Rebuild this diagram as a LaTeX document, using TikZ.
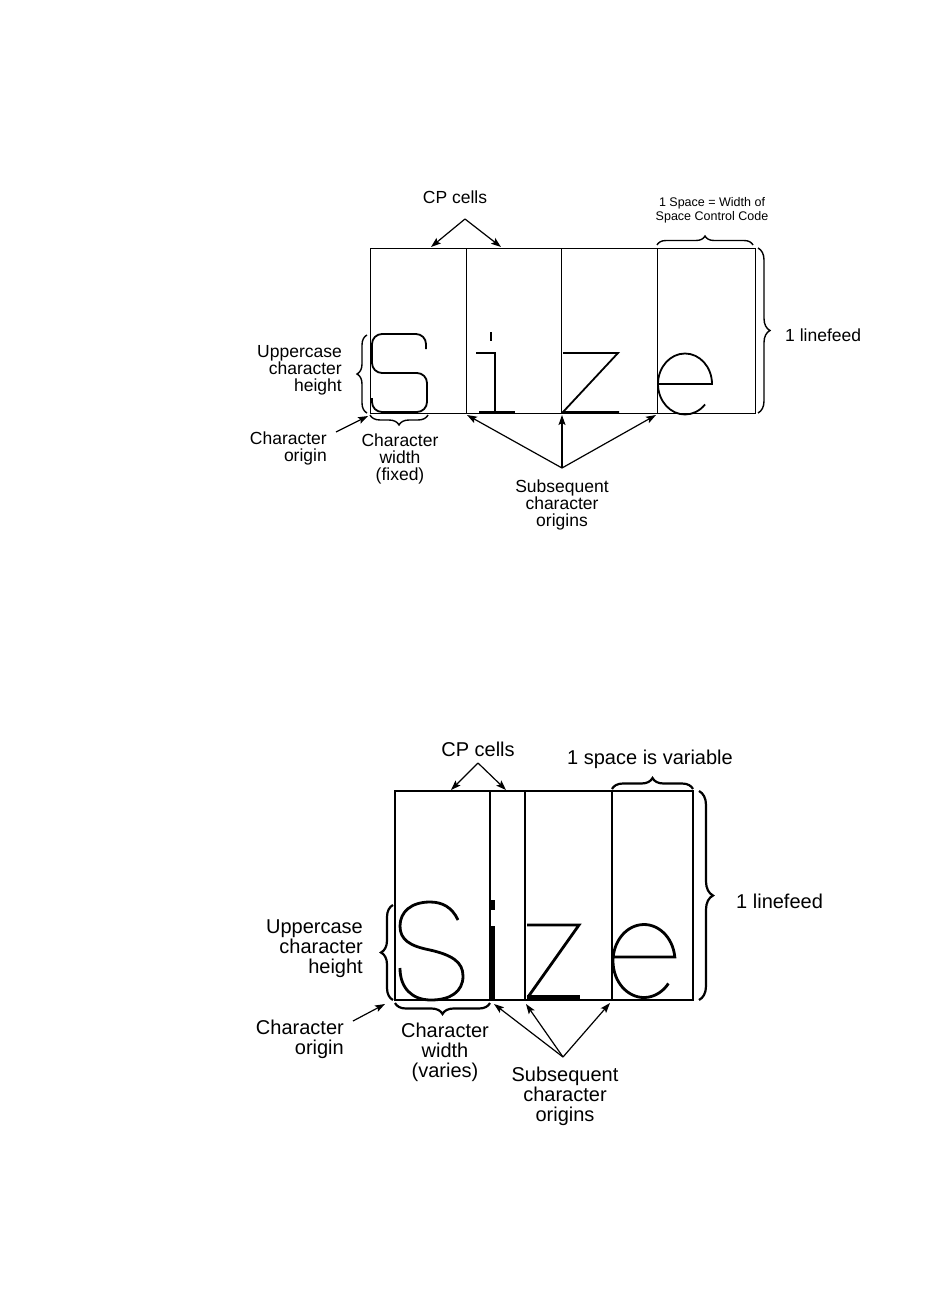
\documentclass[tikz,border=0pt]{standalone}
\usepackage{fontspec}
\setmainfont{Liberation Sans}
\usetikzlibrary{arrows.meta,decorations.pathreplacing}
\begin{document}
\begin{tikzpicture}[x=1pt,y=-1pt,
  cellT/.style={line width=1pt},
  cellB/.style={line width=1.2pt},
  glyphT/.style={line width=1.8pt,line cap=butt,line join=miter},
  glyphB/.style={line width=2.8pt,line cap=butt,line join=miter},
  arr/.style={-{Stealth[length=10pt,width=7pt,inset=2pt]},line width=1.2pt},
  braceT/.style={decorate,decoration={brace,amplitude=#1},line width=1.4pt},
  braceB/.style={decorate,decoration={brace,amplitude=#1},line width=2.2pt},
  lblT/.style={inner sep=0pt,font=\fontsize{17.5}{17}\selectfont},
  lblS/.style={inner sep=0pt,font=\fontsize{12.5}{14}\selectfont,align=center},
  lblB/.style={inner sep=0pt,font=\fontsize{20}{20}\selectfont},
]
\useasboundingbox (0,0) rectangle (950,1316);

% ================= TOP DIAGRAM =================
\draw[cellT] (370,248) rectangle (755,413);
\draw[cellT] (466,248) -- (466,413);
\draw[cellT] (561,248) -- (561,413);
\draw[cellT] (657,248) -- (657,413);

% glyphs: S i z e (fixed)
\draw[glyphT,rounded corners=10pt] (426,349) -- (426,334) -- (372,334) -- (372,373) -- (427,373) -- (427,412) -- (372,412) -- (372,398);
\draw[glyphT] (491,332) -- (491,341);
\draw[glyphT] (476,353) -- (495,353) -- (495,412);
\draw[glyphT] (479,412) -- (515,412);
\draw[glyphT] (563,353) -- (618,353) -- (563,412) -- (619,412);
\draw[glyphT] (658,384) -- (712,384) arc[start angle=0,end angle=-318,x radius=27,y radius=30.5];

% braces
\draw[braceT=9pt] (657,245) -- (753,245);
\draw[braceT=12pt] (758,248) -- (758,413);
\draw[braceT=10pt] (367,413) -- (367,335);
\draw[braceT=10pt] (428,415) -- (370,415);

% labels
\node[lblT] (cpT) at (455,197) {CP cells};
\node[lblS] (spT) at (712,210) {1 Space = Width of\\Space Control Code};
\node[lblT,anchor=west] (lfT) at (785,335) {1 linefeed};
\node[lblT,anchor=east,align=right] (ucT) at (342,370) {Uppercase\\character\\height};
\node[lblT,anchor=east,align=right] (coT) at (327,448) {Character\\origin};
\node[lblT,align=center] (cwT) at (400,459) {Character\\width\\(fixed)};
\node[lblT,align=center] (soT) at (562,505) {Subsequent\\character\\origins};

% arrows
\coordinate (cpTa) at (465,219);
\coordinate (cpT1) at (431,247);
\coordinate (cpT2) at (501,247);
\draw[arr] (cpTa) -- (cpT1);
\draw[arr] (cpTa) -- (cpT2);
\coordinate (coTs) at (336,432);
\coordinate (coTe) at (368,416);
\draw[arr] (coTs) -- (coTe);
\coordinate (soTa) at (562,468);
\coordinate (soT1) at (467,415);
\coordinate (soT2) at (562,415);
\coordinate (soT3) at (656,415);
\draw[arr] (soTa) -- (soT1);
\draw[arr] (soTa) -- (soT2);
\draw[arr] (soTa) -- (soT3);

% ================= BOTTOM DIAGRAM =================
\draw[cellB] (395,791) rectangle (693,1000);
\draw[cellB] (490,791) -- (490,1000);
\draw[cellB] (525,791) -- (525,1000);
\draw[cellB] (612,791) -- (612,1000);

% glyphs: S i z e (proportional)
\draw[glyphB] (458,920) .. controls (452,907) and (442,902) .. (430,902)
  .. controls (411,902) and (400,912) .. (400,926)
  .. controls (400,940) and (410,946) .. (430,950)
  .. controls (452,955) and (463,962) .. (463,976)
  .. controls (463,992) and (450,1000) .. (431,1000)
  .. controls (412,1000) and (400,988) .. (400,968);
\draw[line width=4pt] (493,900) -- (493,910);
\draw[line width=3.5pt] (493,926) -- (493,1000);
\draw[glyphB] (527,925) -- (579,925) -- (528,997);
\draw[line width=4.5pt] (527,997.5) -- (580,997.5);
\draw[glyphB] (613,957) -- (674.8,957) arc[start angle=-6.3,end angle=-322,x radius=31,y radius=36.5];

% braces
\draw[braceB=11pt] (612,789) -- (693,789);
\draw[braceB=14pt] (699,791) -- (699,1000);
\draw[braceB=12pt] (393,1000) -- (393,905);
\draw[braceB=11pt] (490,1003) -- (395,1003);

% labels
\node[lblB] (cpB) at (478,749) {CP cells};
\node[lblB] (spB) at (650,759) {1 space is variable};
\node[lblB,anchor=west] (lfB) at (736,901) {1 linefeed};
\node[lblB,anchor=east,align=right] (ucB) at (363,949) {Uppercase\\character\\height};
\node[lblB,anchor=east,align=right] (coB) at (344,1039) {Character\\origin};
\node[lblB,align=center] (cwB) at (445,1052) {Character\\width\\(varies)};
\node[lblB,align=center] (soB) at (565,1096) {Subsequent\\character\\origins};

% arrows
\coordinate (cpBa) at (478,763);
\coordinate (cpB1) at (451,790);
\coordinate (cpB2) at (506,790);
\draw[arr] (cpBa) -- (cpB1);
\draw[arr] (cpBa) -- (cpB2);
\coordinate (coBs) at (353,1021);
\coordinate (coBe) at (385,1004);
\draw[arr] (coBs) -- (coBe);
\coordinate (soBa) at (563,1057);
\coordinate (soB1) at (494,1004);
\coordinate (soB2) at (526,1004);
\coordinate (soB3) at (610,1003);
\draw[arr] (soBa) -- (soB1);
\draw[arr] (soBa) -- (soB2);
\draw[arr] (soBa) -- (soB3);
\end{tikzpicture}
\end{document}
